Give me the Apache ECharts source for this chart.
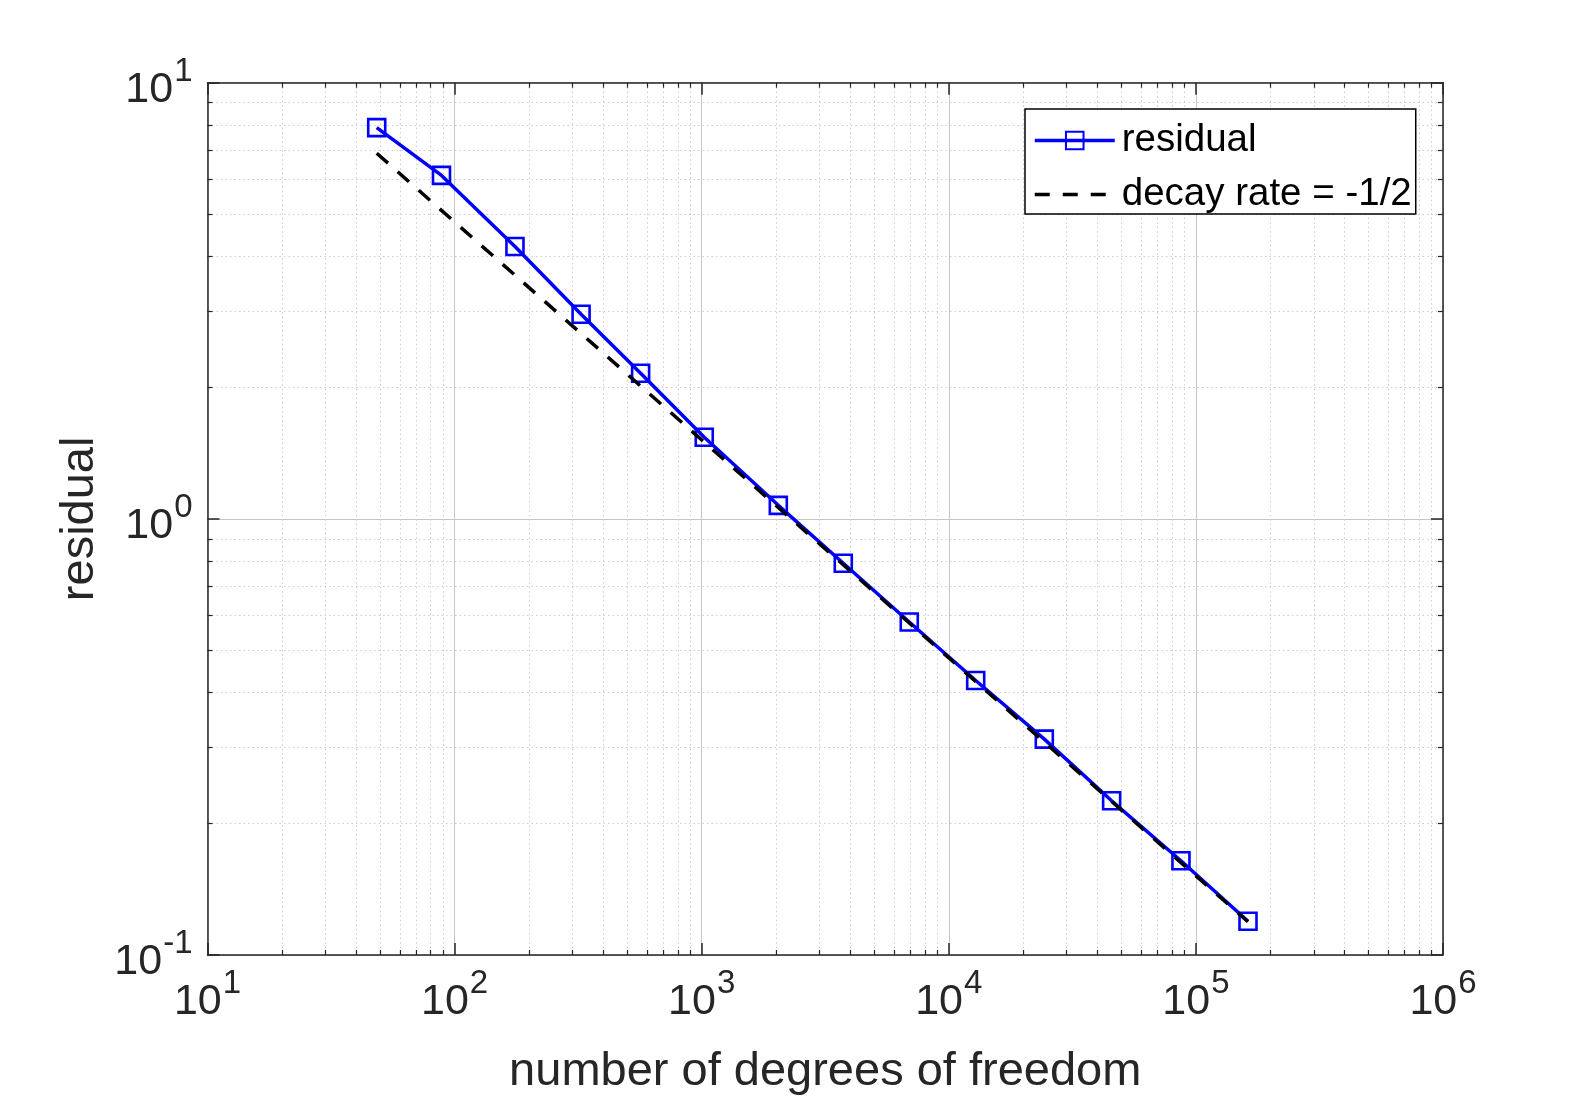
<!DOCTYPE html>
<html><head><meta charset="utf-8">
<script src="https://cdn.jsdelivr.net/npm/echarts@6/dist/echarts.min.js"></script>
<style>html,body{margin:0;padding:0;background:#fff}#c{width:1596px;height:1097px}</style>
</head><body><div id="c"></div>
<script>
// ---- data ----
const dofs = [48.4, 88.5, 175.5, 325, 566, 1024, 2042, 3741, 6918, 12850, 24350, 45600, 87000, 162500];
const residuals = [7.89, 6.13, 4.21, 2.945, 2.157, 1.538, 1.074, 0.791, 0.580, 0.426, 0.3126, 0.2257, 0.1645, 0.1195];
const refDofs = [48.4, 162500];
const refValues = [6.89, 0.1192];
const xTickExponents = [1, 2, 3, 4, 5, 6];
const yTickExponents = [-1, 0, 1];
const minorMultipliers = [2, 3, 4, 5, 6, 7, 8, 9];
const seriesNames = ['residual', 'decay rate = -1/2'];
const axisNames = { x: 'number of degrees of freedom', y: 'residual' };

const FONT = "'Liberation Sans', Arial, Helvetica, sans-serif";
const AX = '#262626';

function minorExps(exps) {
  const out = [];
  for (let i = 0; i < exps.length - 1; i++)
    for (const m of minorMultipliers) out.push(exps[i] + Math.log10(m));
  return out;
}
const xMinor = minorExps(xTickExponents);
const yMinor = minorExps(yTickExponents);

const rich = {
  b: { fontSize: 43, lineHeight: 44, padding: [14, 0, 0, 0], color: AX, fontFamily: FONT },
  s: { fontSize: 33, lineHeight: 36, padding: [0, 0, 22, 1], color: AX, fontFamily: FONT }
};
const fmt = v => '{b|10}{s|' + Math.round(Math.log10(v)) + '}';

const xMin = Math.pow(10, xTickExponents[0]), xMax = Math.pow(10, xTickExponents[xTickExponents.length - 1]);
const yMin = Math.pow(10, yTickExponents[0]), yMax = Math.pow(10, yTickExponents[yTickExponents.length - 1]);

const majorLine = { show: true, onZero: false, lineStyle: { color: AX, width: 1.5 } };
const noLine = { show: false, onZero: false };
const majorTick = { show: true, inside: true, length: 12, lineStyle: { color: AX, width: 1.5 } };
const minorTick = (vals) => ({ show: true, inside: true, length: 5, customValues: vals, lineStyle: { color: AX, width: 1.2 } });
const majorGrid = { show: true, lineStyle: { color: '#c6c6c6', width: 1 } };
const minorGrid = { show: true, lineStyle: { color: '#cdcdcd', width: 1, type: [1.5, 3] } };

const xAxes = [
  { type: 'log', logBase: 10, min: xMin, max: xMax, position: 'bottom',
    axisLine: majorLine, axisTick: majorTick,
    axisLabel: { show: true, margin: 18, formatter: fmt, rich: rich },
    splitLine: majorGrid,
    name: axisNames.x, nameLocation: 'middle', nameGap: 94,
    nameTextStyle: { fontSize: 47, color: AX, fontFamily: FONT } },
  { type: 'value', min: xTickExponents[0], max: xTickExponents[xTickExponents.length - 1], position: 'bottom',
    axisLine: noLine, axisTick: minorTick(xMinor), axisLabel: { show: false }, splitLine: minorGrid },
  { type: 'log', logBase: 10, min: xMin, max: xMax, position: 'top',
    axisLine: majorLine, axisTick: majorTick, axisLabel: { show: false }, splitLine: { show: false } },
  { type: 'value', min: xTickExponents[0], max: xTickExponents[xTickExponents.length - 1], position: 'top',
    axisLine: noLine, axisTick: minorTick(xMinor), axisLabel: { show: false }, splitLine: { show: false } }
];
const yAxes = [
  { type: 'log', logBase: 10, min: yMin, max: yMax, position: 'left',
    axisLine: majorLine, axisTick: majorTick,
    axisLabel: { show: true, margin: 15, formatter: fmt, rich: rich },
    splitLine: majorGrid,
    name: axisNames.y, nameLocation: 'middle', nameGap: 96,
    nameTextStyle: { fontSize: 47, color: AX, fontFamily: FONT } },
  { type: 'value', min: yTickExponents[0], max: yTickExponents[yTickExponents.length - 1], position: 'left',
    axisLine: noLine, axisTick: minorTick(yMinor), axisLabel: { show: false }, splitLine: minorGrid },
  { type: 'log', logBase: 10, min: yMin, max: yMax, position: 'right',
    axisLine: majorLine, axisTick: majorTick, axisLabel: { show: false }, splitLine: { show: false } },
  { type: 'value', min: yTickExponents[0], max: yTickExponents[yTickExponents.length - 1], position: 'right',
    axisLine: noLine, axisTick: minorTick(yMinor), axisLabel: { show: false }, splitLine: { show: false } }
];

const chart = echarts.init(document.getElementById('c'), null, { renderer: 'canvas' });
chart.setOption({
  animation: false,
  backgroundColor: '#fff',
  textStyle: { fontFamily: FONT },
  grid: { left: 207.5, right: 153, top: 82.7, bottom: 142, containLabel: false, outerBoundsMode: 'none' },
  xAxis: xAxes,
  yAxis: yAxes,
  legend: {
    data: [
      { name: seriesNames[0], lineStyle: { width: 3.5 } },
      { name: seriesNames[1], lineStyle: { width: 3.5 }, itemStyle: { color: 'rgba(0,0,0,0)', borderWidth: 0, opacity: 0 } }
    ],
    orient: 'vertical', left: 1025, top: 109,
    itemWidth: 80, itemHeight: 22, itemGap: 15, padding: [12, 4, 0, 8],
    borderColor: '#000', borderWidth: 1.5, backgroundColor: '#fff', borderRadius: 0,
    selectedMode: false,
    textStyle: { fontSize: 38.5, lineHeight: 38, color: '#000', fontFamily: FONT, padding: [0, 0, 0, 2] }
  },
  series: [
    { name: seriesNames[0], type: 'line', xAxisIndex: 0, yAxisIndex: 0,
      data: dofs.map((d, i) => [d, residuals[i]]),
      symbol: 'rect', symbolSize: 17, showAllSymbol: true,
      lineStyle: { color: '#0000ff', width: 3.5 },
      itemStyle: { color: 'rgba(255,255,255,0)', borderColor: '#0000ff', borderWidth: 2.6 },
      emphasis: { disabled: true }, z: 3 },
    { name: seriesNames[1], type: 'line', xAxisIndex: 0, yAxisIndex: 0,
      data: refDofs.map((d, i) => [d, refValues[i]]),
      symbol: 'none',
      lineStyle: { color: '#000', width: 3.5, type: [15, 13] },
      itemStyle: { color: '#000' },
      emphasis: { disabled: true }, z: 4 }
  ]
});
</script></body></html>
